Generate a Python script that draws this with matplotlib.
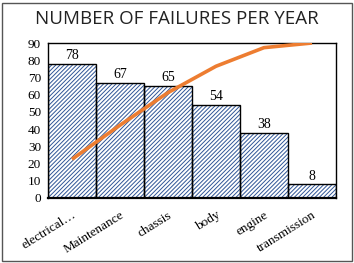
import matplotlib.pyplot as plt
from matplotlib.patches import Rectangle

categories = ['electrical…', 'Maintenance', 'chassis', 'body', 'engine', 'transmission']
failures = [78, 67, 65, 54, 38, 8]
cumulative_pct = [25, 47, 68, 85, 97, 100]

fig = plt.figure(figsize=(3.54, 2.63), dpi=100)
ax = fig.add_axes([48 / 354, 65 / 263, 288 / 354, 155 / 263])

# Bars with blue diagonal hatch
plt.rcParams['hatch.linewidth'] = 0.7
x = range(len(categories))
ax.bar(x, failures, width=1.0, color='white', edgecolor='#2F5597',
       hatch='////////', linewidth=0, zorder=1)
ax.bar(x, failures, width=1.0, color='none', edgecolor='black', linewidth=1.0, zorder=2)

for i, v in enumerate(failures):
    ax.text(i, v + 1.0, str(v), ha='center', va='bottom', fontsize=10,
            family='Liberation Serif')

ax.set_xlim(-0.5, len(categories) - 0.5)
ax.set_ylim(0, 90)
ax.set_yticks(range(0, 91, 10))
ax.set_xticks(list(x))
ax.set_xticklabels(categories, rotation=32, ha='right', rotation_mode='anchor',
                   family='Liberation Serif', fontsize=9.5)
for lab in ax.get_yticklabels():
    lab.set_family('Liberation Serif')
    lab.set_fontsize(9.5)
ax.tick_params(axis='y', length=0, pad=5)
ax.tick_params(axis='x', length=0, pad=8)
for s in ax.spines.values():
    s.set_linewidth(1.0)
ax.spines['bottom'].set_linewidth(1.6)

# Cumulative line on hidden secondary axis
ax2 = ax.twinx()
ax2.plot(x, cumulative_pct, color='#ED7D31', linewidth=2.6, solid_capstyle='butt')
ax2.set_ylim(0, 100)
ax2.set_yticks([])
for s in ax2.spines.values():
    s.set_visible(False)

fig.text(0.5, 1 - 19 / 263, 'NUMBER OF FAILURES PER YEAR', ha='center', va='center',
         fontsize=13.5, family='Open Sans', color='#222222')

fig.patches.append(Rectangle((2 / 354, 2 / 263), 350 / 354, 258 / 263, transform=fig.transFigure,
                             fill=False, edgecolor='#555555', linewidth=1.0))

fig.savefig('out.png', dpi=100)
